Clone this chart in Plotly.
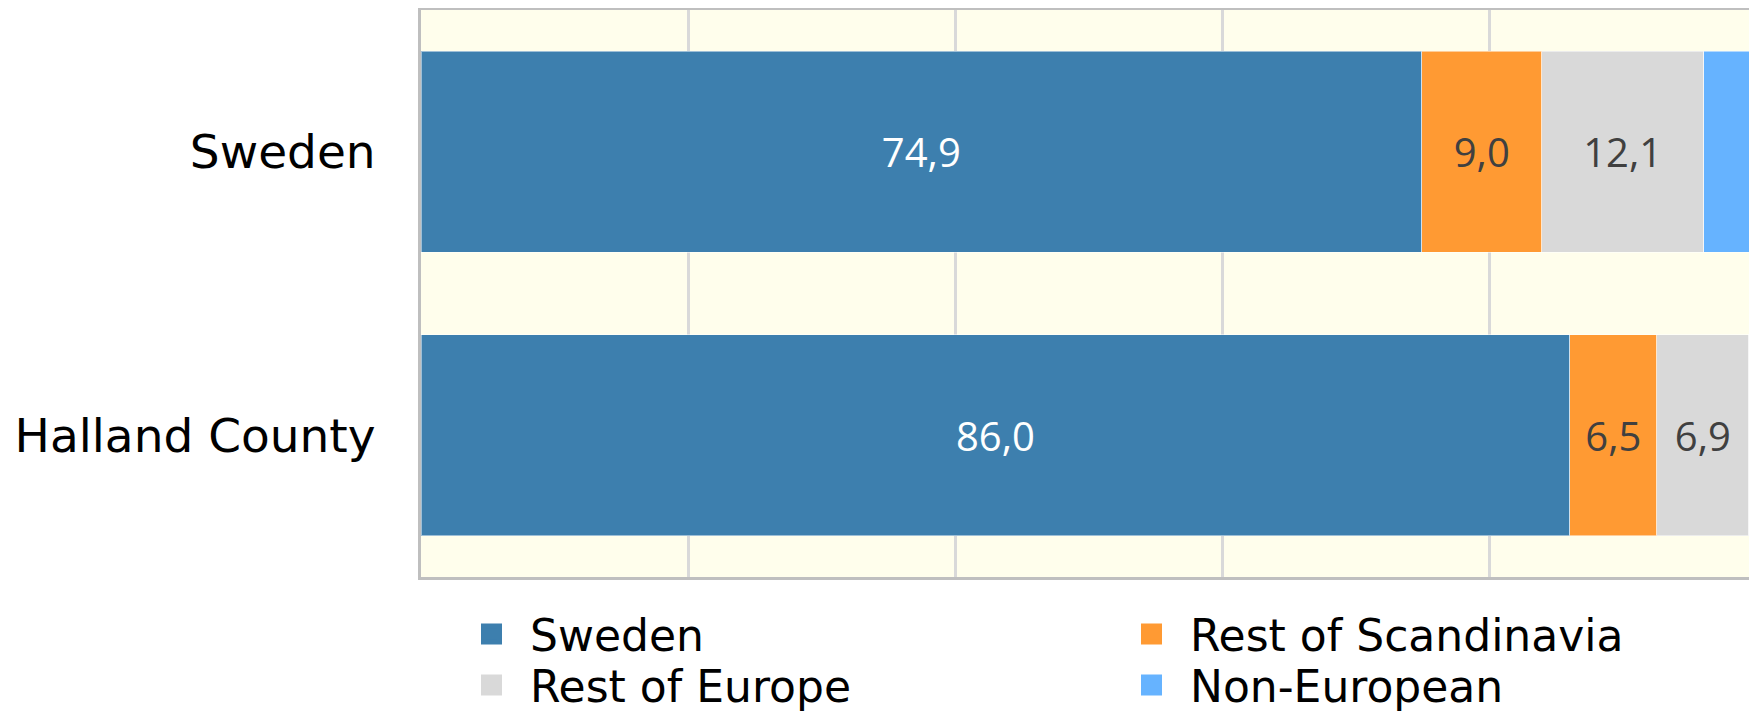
import plotly.graph_objects as go

regions = ["Sweden", "Halland County"]
series_names = ["Sweden", "Rest of Scandinavia", "Rest of Europe", "Non-European"]
sweden_born = [74.9, 86.0]
rest_scandinavia = [9.0, 6.5]
rest_europe = [12.1, 6.9]
non_european = [4.0, 0.6]

series_values = [sweden_born, rest_scandinavia, rest_europe, non_european]
colors = ["#3D7FAE", "#FF9A33", "#D9D9D9", "#66B3FF"]
text_colors = ["#FFFFFF", "#404040", "#404040", "#404040"]
show_text = [True, True, True, False]
legend_ids = ["legend", "legend2", "legend3", "legend4"]

# the page body has an 8px margin, so the figure is a little smaller than the window
W, H = 1749, 704

fig = go.Figure()
for name, vals, col, tcol, st in zip(series_names, series_values, colors, text_colors, show_text):
    fig.add_trace(go.Bar(
        y=regions, x=vals, name=name, orientation="h",
        marker=dict(color=col, line=dict(color="rgba(255,255,255,0.5)", width=1)),
        texttemplate="%{x:.1f}" if st else None,
        textposition="inside" if st else "none",
        insidetextanchor="middle",
        textangle=0,
        textfont=dict(family="Open Sans", size=40, color=tcol),
        showlegend=False,
        hoverinfo="skip",
    ))
# legend entries with larger square swatches
for name, col, lg in zip(series_names, colors, legend_ids):
    fig.add_trace(go.Scatter(
        x=[None], y=[None], mode="markers", name=name,
        marker=dict(symbol="square", size=16, color=col, line=dict(color=col, width=5)),
        showlegend=True, legend=lg,
    ))

legend_common = dict(
    orientation="v", traceorder="normal",
    xref="container", yref="container",
    xanchor="left", yanchor="top",
    font=dict(family="DejaVu Sans", size=44, color="#000000"),
    itemwidth=67, tracegroupgap=0,
    bgcolor="rgba(0,0,0,0)",
)
col_x = [445, 1105]
row_top = [591, 642]

fig.update_layout(
    width=W, height=H,
    barmode="stack",
    bargap=0.29,
    separators=", ",
    paper_bgcolor="white",
    plot_bgcolor="#FFFEEC",
    margin=dict(l=413, r=0, t=2, b=135, autoexpand=False),
    font=dict(family="DejaVu Sans", color="#000000"),
    legend=dict(x=col_x[0] / W, y=1 - row_top[0] / H, **legend_common),
    legend2=dict(x=col_x[1] / W, y=1 - row_top[0] / H, **legend_common),
    legend3=dict(x=col_x[0] / W, y=1 - row_top[1] / H, **legend_common),
    legend4=dict(x=col_x[1] / W, y=1 - row_top[1] / H, **legend_common),
    xaxis=dict(
        range=[0, 100], dtick=20, showticklabels=False,
        showgrid=True, gridcolor="#D9D9D9", gridwidth=3,
        zeroline=False,
        showline=True, linecolor="#BFBFBF", linewidth=3, mirror=True,
        fixedrange=True,
    ),
    yaxis=dict(
        categoryorder="array", categoryarray=regions,
        autorange="reversed",
        showgrid=False, zeroline=False,
        showline=True, linecolor="#BFBFBF", linewidth=3, mirror=True,
        tickfont=dict(family="DejaVu Sans", size=47, color="#000000"),
        ticks="", ticklabelstandoff=33,
    ),
)

fig.write_html("out.html")
